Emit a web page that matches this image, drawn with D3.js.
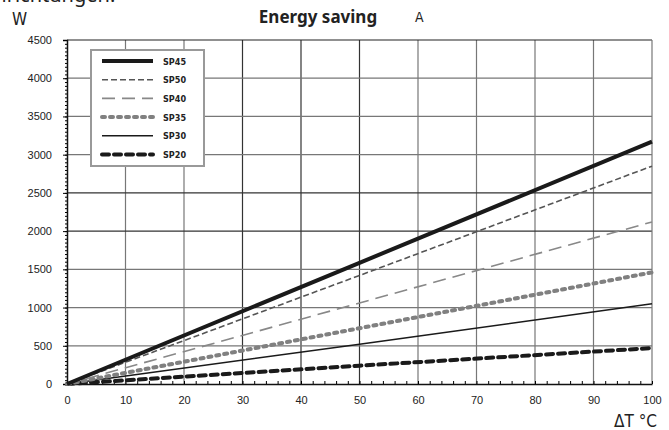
<!DOCTYPE html>
<html>
<head>
<meta charset="utf-8">
<script src="https://cdn.jsdelivr.net/npm/d3@7"></script>
<style>
  body { margin: 0; background: #fff; }
  svg { display: block; font-family: "DejaVu Sans Condensed", "Liberation Sans Narrow", sans-serif; }
</style>
</head>
<body>
<div id="chartContainer"></div>
<script>
// x values (ΔT °C) at which values were read
const deltaT = [0, 50, 100];
const sp45 = [0, 1585, 3170];
const sp50 = [0, 1420, 2850];
const sp40 = [0, 1060, 2120];
const sp35 = [0, 730, 1460];
const sp30 = [0, 520, 1050];
const sp20 = [0, 240, 470];

const seriesNames = ['SP45', 'SP50', 'SP40', 'SP35', 'SP30', 'SP20'];
const xTicks = [0, 10, 20, 30, 40, 50, 60, 70, 80, 90, 100];
const yTicks = [0, 500, 1000, 1500, 2000, 2500, 3000, 3500, 4000, 4500];

const width = 669, height = 430;
const margin = { top: 40, right: 17, bottom: 46, left: 67 };
const w = width - margin.left - margin.right;
const h = height - margin.top - margin.bottom;

const svg = d3.select('#chartContainer')
    .append('svg')
    .attr('width', width)
    .attr('height', height);

const x = d3.scaleLinear().domain([0, 100]).range([margin.left, margin.left + w]);
const y = d3.scaleLinear().domain([0, 4500]).range([margin.top + h, margin.top]);

// cropped heading at the very top
svg.append('text')
    .attr('x', -22).attr('y', 2)
    .style('font-size', '20px')
    .style('font-family', 'Noto Sans')
    .attr('fill', '#222')
    .text('Einrichtungen.');

svg.append('text')
    .attr('x', 12).attr('y', 25)
    .style('font-size', '17px')
    .attr('fill', '#222')
    .text('W');

svg.append('text')
    .attr('x', 318).attr('y', 23)
    .attr('text-anchor', 'middle')
    .style('font-size', '17px')
    .style('font-family', 'Noto Sans')
    .style('font-weight', 'bold')
    .attr('fill', '#222')
    .text('Energy saving');

svg.append('text')
    .attr('x', 415).attr('y', 22)
    .style('font-size', '14px')
    .attr('fill', '#222')
    .text('A');

// grid
const darkX = [30, 40, 50];
const darkY = [2000, 2500];
svg.append('g')
    .selectAll('line')
    .data(xTicks.slice(1, -1))
    .enter()
    .append('line')
    .attr('x1', d => x(d)).attr('x2', d => x(d))
    .attr('y1', y(0)).attr('y2', y(4500))
    .attr('stroke', d => darkX.includes(d) ? '#333' : '#777')
    .attr('stroke-width', 1.2);

svg.append('g')
    .selectAll('line')
    .data(yTicks.slice(1, -1))
    .enter()
    .append('line')
    .attr('x1', x(0)).attr('x2', x(100))
    .attr('y1', d => y(d)).attr('y2', d => y(d))
    .attr('stroke', d => darkY.includes(d) ? '#333' : '#777')
    .attr('stroke-width', 1.2);

// frame
svg.append('line')
    .attr('x1', x(0)).attr('x2', x(100)).attr('y1', y(4500)).attr('y2', y(4500))
    .attr('stroke', '#222').attr('stroke-width', 1.2);
svg.append('line')
    .attr('x1', x(100)).attr('x2', x(100)).attr('y1', y(0)).attr('y2', y(4500))
    .attr('stroke', '#777').attr('stroke-width', 1.2);

// axes
const yAxis = svg.append('g')
    .attr('transform', `translate(${x(0)},0)`)
    .call(d3.axisLeft(y).tickValues(yTicks).tickFormat(d3.format('d')).tickSize(4).tickPadding(11));
svg.append('g')
    .attr('transform', `translate(${x(0)},0)`)
    .call(d3.axisLeft(y).ticks(90).tickSize(2).tickFormat(''))
    .call(g => g.select('.domain').remove());

const xAxis = svg.append('g')
    .attr('transform', `translate(0,${y(0)})`)
    .call(d3.axisBottom(x).tickValues(xTicks).tickSize(0).tickPadding(12));
svg.append('g')
    .attr('transform', `translate(0,${y(0)})`)
    .call(d3.axisTop(x).ticks(50).tickSize(3).tickFormat(''))
    .call(g => g.select('.domain').remove());

[yAxis, xAxis].forEach(g => {
    g.select('.domain').attr('stroke', '#111').attr('stroke-width', 1.5);
    g.selectAll('text').style('font-size', '11px').attr('fill', '#222');
});

// series
const styles = {
    SP45: { data: sp45, color: '#1a1a1a', width: 4, dash: null, cap: 'butt' },
    SP50: { data: sp50, color: '#555', width: 1.6, dash: '6,3', cap: 'butt' },
    SP40: { data: sp40, color: '#888', width: 1.6, dash: '13,7', cap: 'butt' },
    SP35: { data: sp35, color: '#808080', width: 4, dash: '3,5', cap: 'round' },
    SP30: { data: sp30, color: '#1a1a1a', width: 1.5, dash: null, cap: 'butt' },
    SP20: { data: sp20, color: '#1a1a1a', width: 4, dash: '7,5', cap: 'round' }
};

const line = d3.line()
    .x(d => x(d[0]))
    .y(d => y(d[1]));

const plot = svg.append('g');
seriesNames.slice().reverse().forEach(name => {
    const s = styles[name];
    plot.append('path')
        .datum(deltaT.map((t, i) => [t, s.data[i]]))
        .attr('fill', 'none')
        .attr('stroke', s.color)
        .attr('stroke-width', s.width)
        .attr('stroke-dasharray', s.dash)
        .attr('stroke-linecap', s.cap)
        .attr('d', line);
});

// legend
const legend = svg.append('g').attr('transform', 'translate(91,50)');
legend.append('rect')
    .attr('width', 113).attr('height', 116)
    .attr('fill', '#fff')
    .attr('stroke', '#999')
    .attr('stroke-width', 2);

seriesNames.forEach((name, i) => {
    const s = styles[name];
    const ry = 11 + i * 18.7;
    legend.append('line')
        .attr('x1', 11).attr('x2', 62)
        .attr('y1', ry).attr('y2', ry)
        .attr('stroke', s.color)
        .attr('stroke-width', s.width)
        .attr('stroke-dasharray', s.dash)
        .attr('stroke-linecap', s.cap);
    legend.append('text')
        .attr('x', 72).attr('y', ry + 3.5)
        .style('font-size', '9px')
        .style('font-weight', 'bold')
        .attr('fill', '#222')
        .text(name);
});

svg.append('text')
    .attr('x', 657).attr('y', 427)
    .attr('text-anchor', 'end')
    .style('font-size', '17px')
    .attr('fill', '#222')
    .text('ΔT °C');
</script>
</body>
</html>
